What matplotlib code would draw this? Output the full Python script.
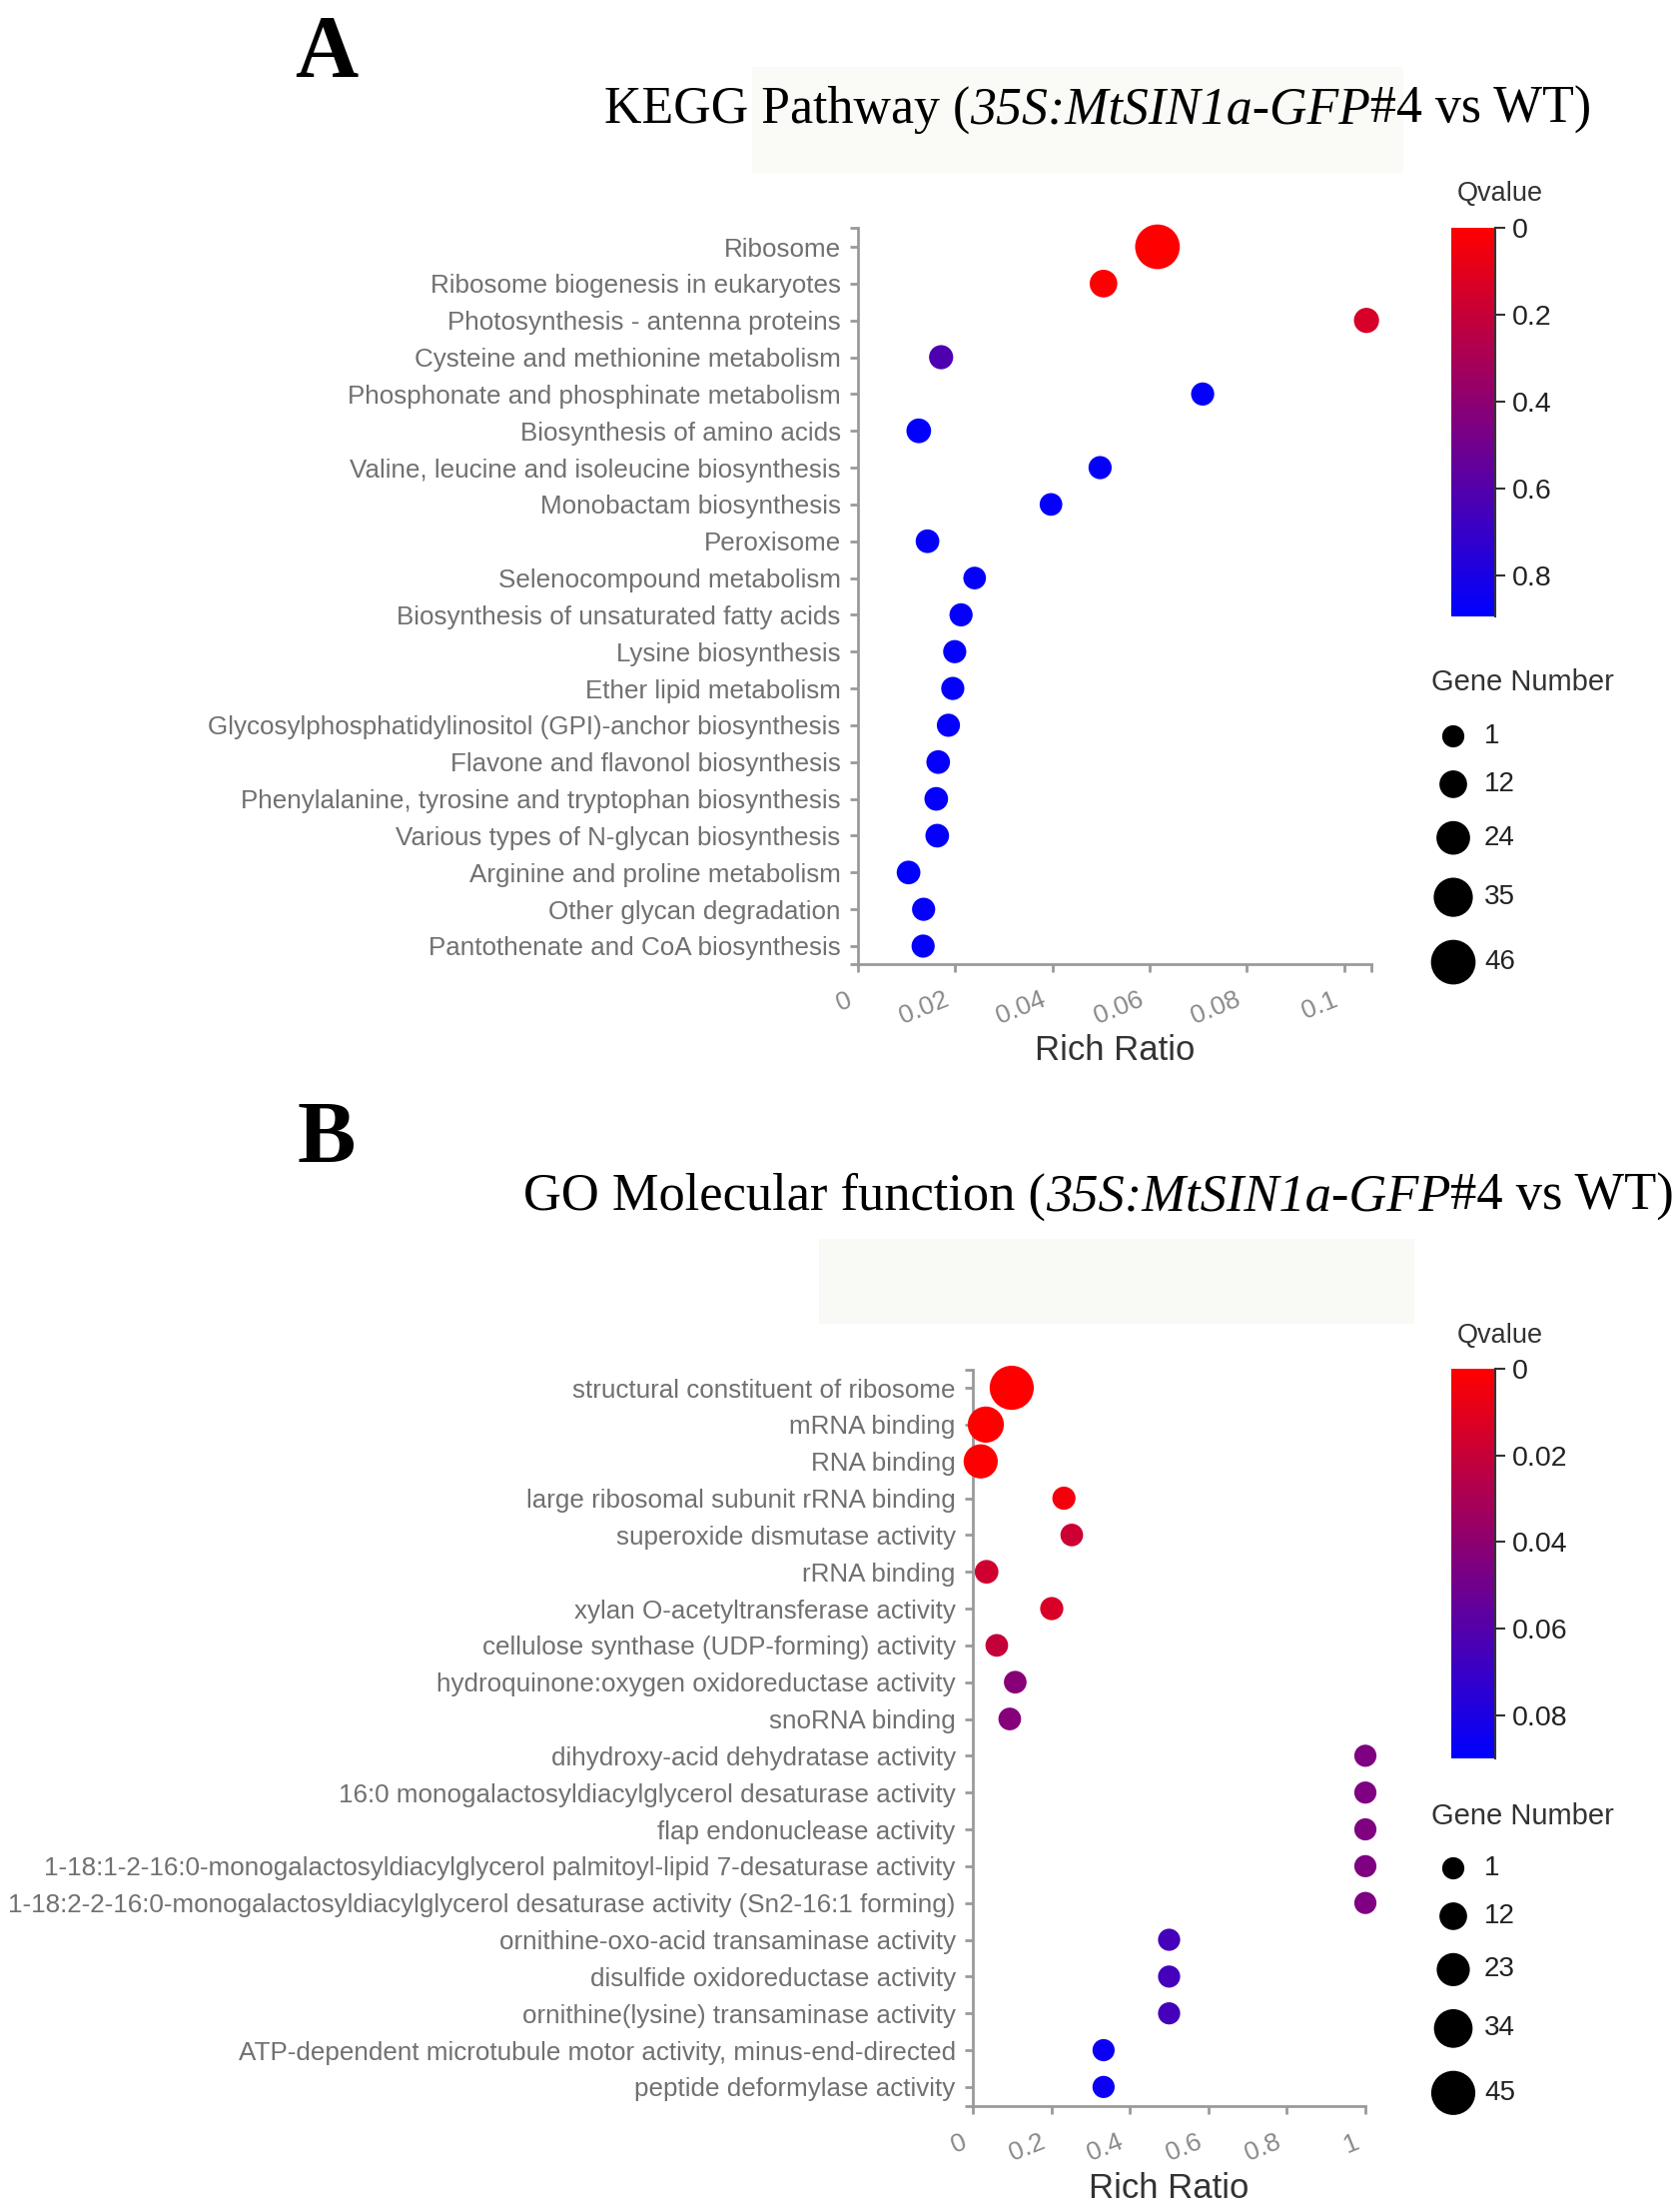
import numpy as np
import matplotlib
matplotlib.use("Agg")
import matplotlib.pyplot as plt
from matplotlib.colors import LinearSegmentedColormap
from matplotlib.patches import Rectangle
from matplotlib.ticker import FixedLocator, FuncFormatter
from matplotlib.transforms import ScaledTranslation

# ---------------- data ----------------
kegg_terms = ["Ribosome", "Ribosome biogenesis in eukaryotes", "Photosynthesis - antenna proteins",
              "Cysteine and methionine metabolism", "Phosphonate and phosphinate metabolism",
              "Biosynthesis of amino acids", "Valine, leucine and isoleucine biosynthesis",
              "Monobactam biosynthesis", "Peroxisome", "Selenocompound metabolism",
              "Biosynthesis of unsaturated fatty acids", "Lysine biosynthesis", "Ether lipid metabolism",
              "Glycosylphosphatidylinositol (GPI)-anchor biosynthesis", "Flavone and flavonol biosynthesis",
              "Phenylalanine, tyrosine and tryptophan biosynthesis", "Various types of N-glycan biosynthesis",
              "Arginine and proline metabolism", "Other glycan degradation", "Pantothenate and CoA biosynthesis"]
kegg_ratio = [0.0616, 0.0505, 0.1046, 0.0171, 0.0709, 0.0125, 0.0498, 0.0397, 0.0143, 0.0240,
              0.0212, 0.0199, 0.0195, 0.0186, 0.0165, 0.0161, 0.0163, 0.0104, 0.0135, 0.0134]
kegg_qvalue = [0.0, 0.01, 0.14, 0.62, 0.88, 0.89, 0.88, 0.88, 0.88, 0.88,
               0.88, 0.88, 0.88, 0.88, 0.88, 0.88, 0.88, 0.89, 0.88, 0.88]
kegg_genes = [46, 12, 7, 5, 3, 6, 3, 2, 4, 2, 3, 3, 3, 3, 4, 4, 4, 4, 3, 3]
kegg_qmax = 0.895
kegg_qticks = [0, 0.2, 0.4, 0.6, 0.8]
kegg_xticks = [0, 0.02, 0.04, 0.06, 0.08, 0.1]
kegg_xmax = 0.1055
kegg_size_legend = [1, 12, 24, 35, 46]

go_terms = ["structural constituent of ribosome", "mRNA binding", "RNA binding",
            "large ribosomal subunit rRNA binding", "superoxide dismutase activity", "rRNA binding",
            "xylan O-acetyltransferase activity", "cellulose synthase (UDP-forming) activity",
            "hydroquinone:oxygen oxidoreductase activity", "snoRNA binding",
            "dihydroxy-acid dehydratase activity", "16:0 monogalactosyldiacylglycerol desaturase activity",
            "flap endonuclease activity",
            "1-18:1-2-16:0-monogalactosyldiacylglycerol palmitoyl-lipid 7-desaturase activity",
            "1-18:2-2-16:0-monogalactosyldiacylglycerol desaturase activity (Sn2-16:1 forming)",
            "ornithine-oxo-acid transaminase activity", "disulfide oxidoreductase activity",
            "ornithine(lysine) transaminase activity",
            "ATP-dependent microtubule motor activity, minus-end-directed", "peptide deformylase activity"]
go_ratio = [0.099, 0.033, 0.020, 0.232, 0.252, 0.035, 0.201, 0.061, 0.108, 0.094,
            1.0, 1.0, 1.0, 1.0, 1.0, 0.5, 0.5, 0.5, 0.333, 0.333]
go_qvalue = [0.0, 0.0, 0.001, 0.004, 0.018, 0.017, 0.014, 0.021, 0.042, 0.043,
             0.045, 0.045, 0.045, 0.045, 0.045, 0.066, 0.066, 0.066, 0.086, 0.086]
go_genes = [45, 29, 25, 3, 2, 4, 3, 2, 2, 2, 1, 1, 1, 1, 1, 1, 1, 1, 1, 1]
go_qmax = 0.09
go_qticks = [0, 0.02, 0.04, 0.06, 0.08]
go_xticks = [0, 0.2, 0.4, 0.6, 0.8, 1]
go_xmax = 1.0
go_size_legend = [1, 12, 23, 34, 45]

# ---------------- style ----------------
W, H = 1682, 2211
DPI = 100
plt.rcParams['font.family'] = ['Liberation Sans', 'DejaVu Sans']
cmap = LinearSegmentedColormap.from_list('rb', ['#ff0000', '#0000ff'])
AXC = '#9a9a9a'
PX = 72.0 / DPI  # points per pixel


def diam_px(n):
    return 22.2 + 0.5 * (np.asarray(n, dtype=float) - 1)


def area(n):
    return (diam_px(n) * PX) ** 2


fig = plt.figure(figsize=(W / DPI, H / DPI), dpi=DPI)
fig.patch.set_facecolor('white')

ov = fig.add_axes([0, 0, 1, 1], zorder=-1)
ov.set_xlim(0, W)
ov.set_ylim(H, 0)
ov.axis('off')


def fax(x0, y0, x1, y1, **kw):
    return fig.add_axes([x0 / W, 1 - y1 / H, (x1 - x0) / W, (y1 - y0) / H], **kw)


def panel(box, terms, ratio, qv, genes, qmax, xticks, xmax, ylims, label_fs, xlab_y):
    ax = fax(*box)
    y = np.arange(len(terms))
    ax.scatter(ratio, y, s=area(genes), c=qv, cmap=cmap, vmin=0, vmax=qmax,
               edgecolors='none', clip_on=False, zorder=3)
    ax.set_xlim(0, xmax)
    ax.set_ylim(*ylims)
    ax.set_yticks(y)
    ax.set_yticklabels(terms)
    ax.set_xticks(xticks)
    ax.xaxis.set_major_formatter(FuncFormatter(lambda v, p: '%g' % v))
    ax.xaxis.set_minor_locator(FixedLocator([xmax]))
    ax.yaxis.set_minor_locator(FixedLocator(list(ylims)))
    for s in ['top', 'right']:
        ax.spines[s].set_visible(False)
    for s in ['left', 'bottom']:
        ax.spines[s].set_color(AXC)
        ax.spines[s].set_linewidth(2.0)
    ax.tick_params(which='both', length=6.0, width=2.0, color=AXC)
    ax.tick_params(axis='y', which='major', labelsize=label_fs, labelcolor='#707070', pad=6.5)
    ax.tick_params(axis='x', which='major', labelsize=19, labelcolor='#8a8a8a', pad=6)
    shift = ScaledTranslation(-12 / DPI, -7 / DPI, fig.dpi_scale_trans)
    for t in ax.get_xticklabels():
        t.set_rotation(22)
        t.set_rotation_mode('anchor')
        t.set_ha('right')
        t.set_va('top')
        t.set_transform(t.get_transform() + shift)
    ax.set_xlabel('Rich Ratio', fontsize=25, color='#333333')
    ax.xaxis.set_label_coords(0.5, xlab_y)
    ax.xaxis.label.set_va('center')
    ax.set_facecolor('none')
    return ax


def colorbar(box, qmax, qticks):
    cax = fax(*box)
    grad = np.linspace(0, qmax, 256).reshape(-1, 1)
    cax.imshow(grad, aspect='auto', cmap=cmap, vmin=0, vmax=qmax,
               extent=(0, 1, qmax, 0), origin='upper')
    cax.set_ylim(qmax, 0)
    cax.set_xticks([])
    cax.yaxis.tick_right()
    cax.set_yticks(qticks)
    cax.yaxis.set_major_formatter(FuncFormatter(lambda v, p: '%g' % v))
    cax.tick_params(axis='y', length=7, width=1.5, color='#333333', labelsize=20.5,
                    labelcolor='#222222', pad=5)
    for s in ['top', 'left', 'bottom']:
        cax.spines[s].set_visible(False)
    cax.spines['right'].set_color('#333333')
    cax.spines['right'].set_linewidth(1.5)
    return cax


def size_legend(x_dot, x_lab, title_x, title_y, first_y, values):
    ov.text(title_x, title_y, 'Gene Number', fontsize=21, color='#333333', ha='left', va='center')
    d = diam_px(values)
    ys = [first_y]
    for i in range(1, len(values)):
        ys.append(ys[-1] + (d[i - 1] + d[i]) / 2 + 23)
    ov.scatter([x_dot] * len(values), ys, s=area(values), c='black', edgecolors='none')
    for v, yy in zip(values, ys):
        ov.text(x_lab, yy, str(v), fontsize=20, color='#222222', ha='left', va='center')


def rich_title(cx, baseline, segments, fs):
    rend = fig.canvas.get_renderer()
    texts = []
    for s, style in segments:
        t = ov.text(0, baseline, s, fontsize=fs, family='Liberation Serif', style=style,
                    color='black', ha='left', va='baseline')
        texts.append(t)
    widths = [t.get_window_extent(rend).width for t in texts]
    x = cx - sum(widths) / 2
    for t, w in zip(texts, widths):
        t.set_x(x)
        x += w


# faint backdrop patches behind titles
ov.add_patch(Rectangle((753, 67), 652, 106, facecolor='#fafaf6', edgecolor='none'))
ov.add_patch(Rectangle((820, 1240), 596, 85, facecolor='#f9f9f5', edgecolor='none'))

# ---------------- panel A ----------------
axA = panel((859, 228, 1372.5, 965), kegg_terms, kegg_ratio, kegg_qvalue, kegg_genes,
            kegg_qmax, kegg_xticks, kegg_xmax, (19.49, -0.516), 18.7, -0.118)
colorbar((1453, 228, 1497, 617), kegg_qmax, kegg_qticks)
ov.text(1502, 194, 'Qvalue', fontsize=19.5, color='#333333', ha='center', va='center')
size_legend(1455, 1486, 1433, 683, 737, kegg_size_legend)

ov.text(327, 76, 'A', fontsize=63, family='Liberation Serif', weight='bold', ha='center', va='baseline')
rich_title(1099, 123, [('KEGG Pathway (', 'normal'), ('35S:MtSIN1a-GFP', 'italic'),
                       ('#4 vs WT)', 'normal')], 37.4)

# ---------------- panel B ----------------
axB = panel((974, 1371, 1367, 2108), go_terms, go_ratio, go_qvalue, go_genes,
            go_qmax, go_xticks, go_xmax, (19.52, -0.49), 18.7, -0.112)
colorbar((1453, 1370, 1497, 1760), go_qmax, go_qticks)
ov.text(1502, 1337, 'Qvalue', fontsize=19.5, color='#333333', ha='center', va='center')
size_legend(1455, 1486, 1433, 1818, 1870, go_size_legend)

ov.text(327, 1163, 'B', fontsize=63, family='Liberation Serif', weight='bold', ha='center', va='baseline')
rich_title(1100, 1211, [('GO Molecular function (', 'normal'), ('35S:MtSIN1a-GFP', 'italic'),
                        ('#4 vs WT)', 'normal')], 37.8)

fig.savefig('out.png', dpi=DPI, facecolor='white')
